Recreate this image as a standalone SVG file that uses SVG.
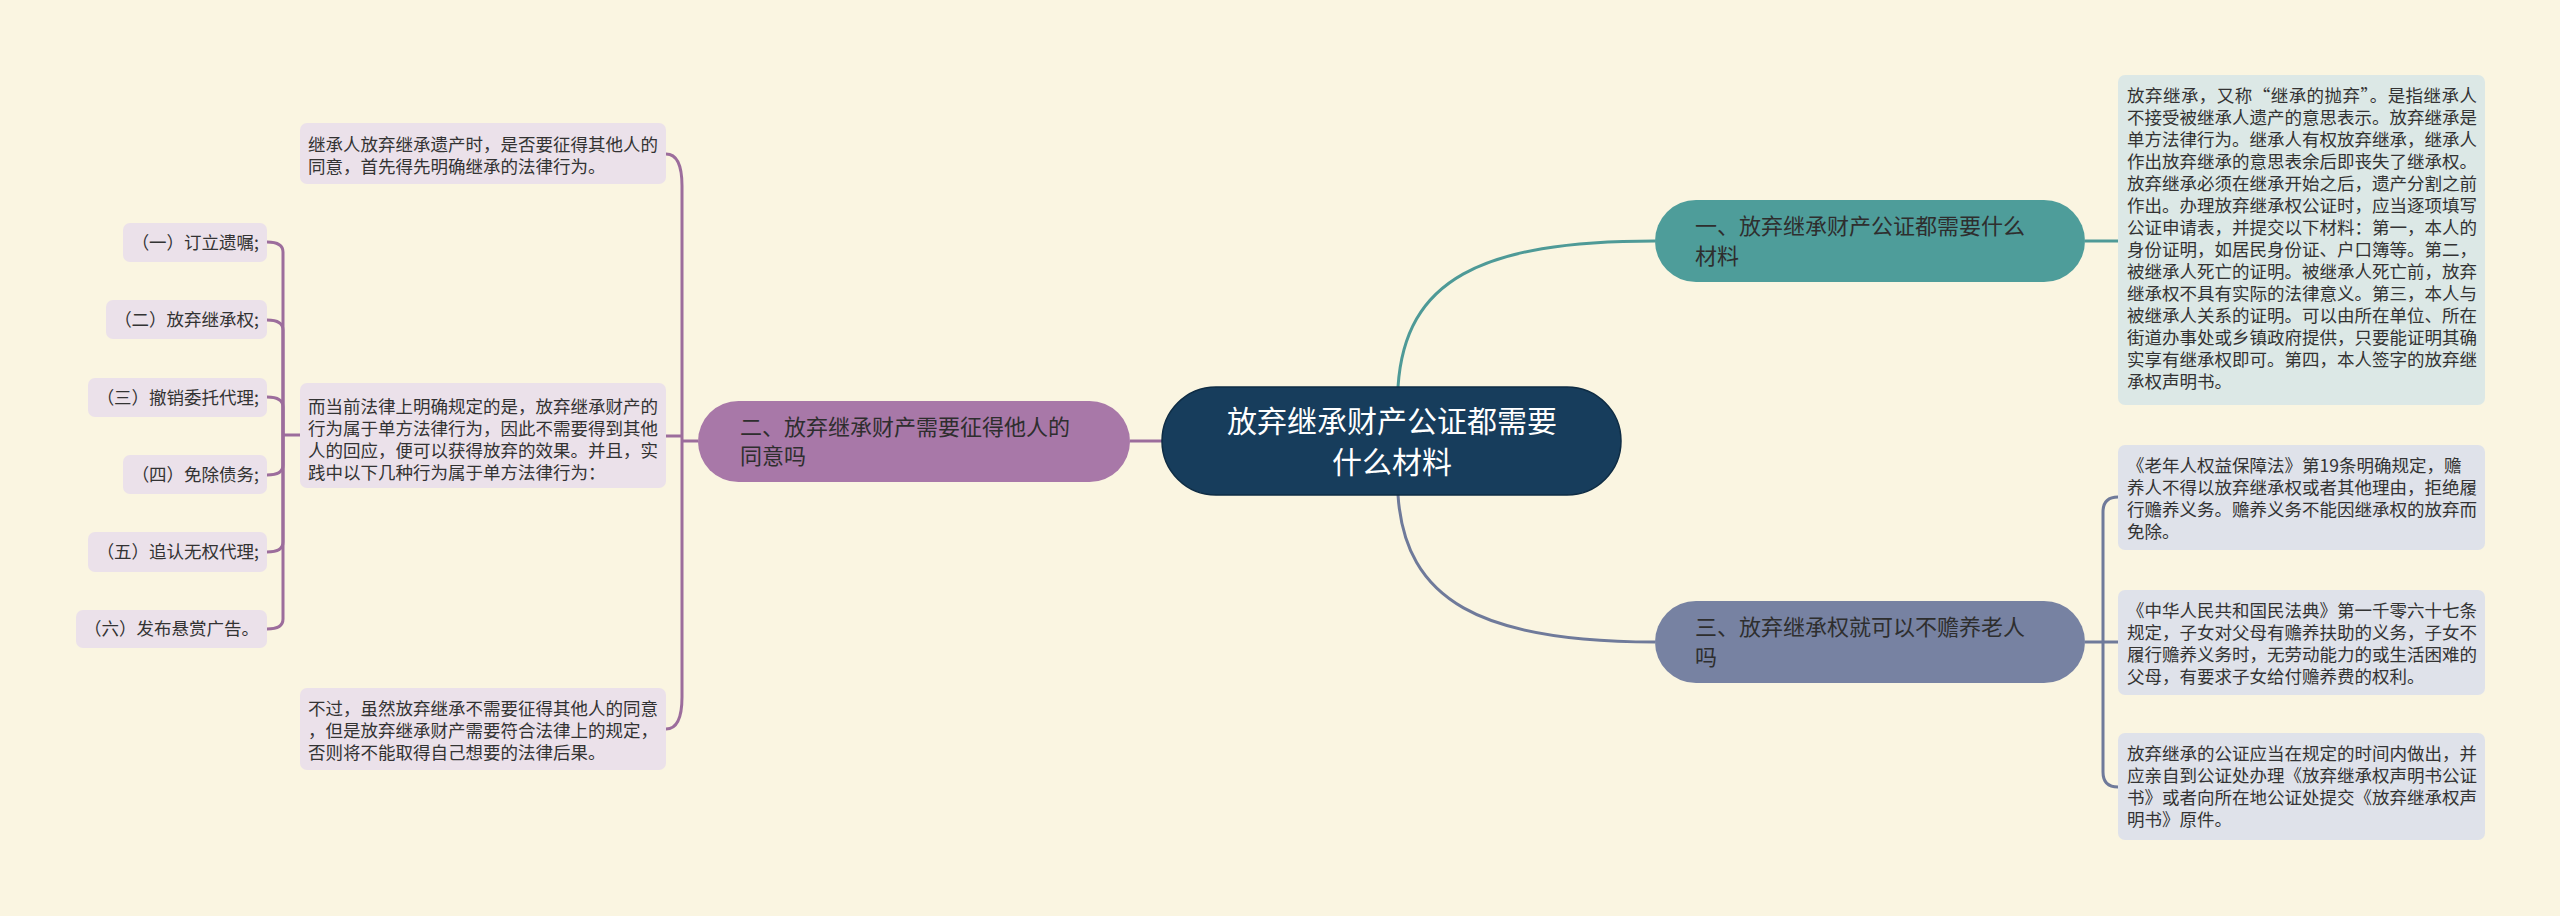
<svg xmlns="http://www.w3.org/2000/svg" width="2560" height="916" viewBox="0 0 2560 916">
<style>
text{font-family:"Noto Sans CJK SC","Liberation Sans",sans-serif;}
.leaf{font-size:17.5px;fill:#333333;}
.br{font-size:22px;fill:#2e2e2e;}
.root{font-size:30px;fill:#ffffff;text-anchor:middle;}
.lt{fill:#dce8e6;}
.lb{fill:#dfe2ea;}
.lp{fill:#ebe1ea;}
.c-teal{fill:none;stroke:#4e9a97;stroke-width:3;}
.c-slate{fill:none;stroke:#6f7a9a;stroke-width:3;}
.c-purp{fill:none;stroke:#9c6d9c;stroke-width:3;}
.ra{text-anchor:end;}
</style>
<rect x="0" y="0" width="2560" height="916" fill="#faf5e1"/>

<g id="connectors">
  <path class="c-teal" d="M1398,387 C1405,280 1480,241 1655,241"/>
  <path class="c-slate" d="M1398,495 C1405,600 1480,642 1655,642"/>
  <path class="c-purp" d="M1162,441 L1130,441"/>
  <path class="c-teal" d="M2085,241 L2118,241"/>
  <path class="c-slate" d="M2085,642 L2118,642"/>
  <path class="c-slate" d="M2103,642 L2103,512 Q2103,497 2118,497"/>
  <path class="c-slate" d="M2103,642 L2103,772 Q2103,787 2118,787"/>
  <path class="c-purp" d="M698,441 L682,441"/>
  <path class="c-purp" d="M682,441 L682,186 Q682,154 666,154"/>
  <path class="c-purp" d="M682,441 L682,697 Q682,729 666,729"/>
  <path class="c-purp" d="M682,436 L666,436"/>
  <path class="c-purp" d="M300,435 L283,435"/>
  <path class="c-purp" d="M283,435 L283,252 Q283,242 267,242"/>
  <path class="c-purp" d="M283,435 L283,330 Q283,320 267,320"/>
  <path class="c-purp" d="M283,435 L283,407 Q283,397 267,397"/>
  <path class="c-purp" d="M283,435 L283,465 Q283,475 267,475"/>
  <path class="c-purp" d="M283,435 L283,542 Q283,552 267,552"/>
  <path class="c-purp" d="M283,435 L283,619 Q283,629 267,629"/>
</g>

<g id="root">
  <rect x="1162" y="387" width="459" height="108" rx="54" fill="#173d5c" stroke="#0e2c44" stroke-width="1.5"/>
  <text class="root" x="1392" y="432">放弃继承财产公证都需要</text>
  <text class="root" x="1392" y="473">什么材料</text>
</g>

<g id="branch1">
  <rect x="1655" y="200" width="430" height="82" rx="41" fill="#4e9d9a"/>
  <text class="br" x="1695" y="234">一、放弃继承财产公证都需要什么</text>
  <text class="br" x="1695" y="264">材料</text>
</g>

<g id="branch2">
  <rect x="698" y="401" width="432" height="81" rx="40.5" fill="#a878a8"/>
  <text class="br" x="740" y="435">二、放弃继承财产需要征得他人的</text>
  <text class="br" x="740" y="464">同意吗</text>
</g>

<g id="branch3">
  <rect x="1655" y="601" width="430" height="82" rx="41" fill="#7782a2"/>
  <text class="br" x="1695" y="635">三、放弃继承权就可以不赡养老人</text>
  <text class="br" x="1695" y="665">吗</text>
</g>

<g id="leaf-r1">
  <rect class="lt" x="2118" y="75" width="367" height="330" rx="7"/>
  <text class="leaf" x="2127" y="102" textLength="350" lengthAdjust="spacing">放弃继承，又称“继承的抛弃”。是指继承人</text>
  <text class="leaf" x="2127" y="124">不接受被继承人遗产的意思表示。放弃继承是</text>
  <text class="leaf" x="2127" y="146">单方法律行为。继承人有权放弃继承，继承人</text>
  <text class="leaf" x="2127" y="168">作出放弃继承的意思表余后即丧失了继承权。</text>
  <text class="leaf" x="2127" y="190">放弃继承必须在继承开始之后，遗产分割之前</text>
  <text class="leaf" x="2127" y="212">作出。办理放弃继承权公证时，应当逐项填写</text>
  <text class="leaf" x="2127" y="234">公证申请表，并提交以下材料：第一，本人的</text>
  <text class="leaf" x="2127" y="256">身份证明，如居民身份证、户口簿等。第二，</text>
  <text class="leaf" x="2127" y="278">被继承人死亡的证明。被继承人死亡前，放弃</text>
  <text class="leaf" x="2127" y="300">继承权不具有实际的法律意义。第三，本人与</text>
  <text class="leaf" x="2127" y="322">被继承人关系的证明。可以由所在单位、所在</text>
  <text class="leaf" x="2127" y="344">街道办事处或乡镇政府提供，只要能证明其确</text>
  <text class="leaf" x="2127" y="366">实享有继承权即可。第四，本人签字的放弃继</text>
  <text class="leaf" x="2127" y="388">承权声明书。</text>
</g>

<g id="leaf-r2">
  <rect class="lb" x="2118" y="445" width="367" height="105" rx="7"/>
  <text class="leaf" x="2127" y="472">《老年人权益保障法》第19条明确规定，赡</text>
  <text class="leaf" x="2127" y="494">养人不得以放弃继承权或者其他理由，拒绝履</text>
  <text class="leaf" x="2127" y="516">行赡养义务。赡养义务不能因继承权的放弃而</text>
  <text class="leaf" x="2127" y="538">免除。</text>
</g>

<g id="leaf-r3">
  <rect class="lb" x="2118" y="590" width="367" height="105" rx="7"/>
  <text class="leaf" x="2127" y="617">《中华人民共和国民法典》第一千零六十七条</text>
  <text class="leaf" x="2127" y="639">规定，子女对父母有赡养扶助的义务，子女不</text>
  <text class="leaf" x="2127" y="661">履行赡养义务时，无劳动能力的或生活困难的</text>
  <text class="leaf" x="2127" y="683">父母，有要求子女给付赡养费的权利。</text>
</g>

<g id="leaf-r4">
  <rect class="lb" x="2118" y="733" width="367" height="107" rx="7"/>
  <text class="leaf" x="2127" y="760">放弃继承的公证应当在规定的时间内做出，并</text>
  <text class="leaf" x="2127" y="782">应亲自到公证处办理《放弃继承权声明书公证</text>
  <text class="leaf" x="2127" y="804">书》或者向所在地公证处提交《放弃继承权声</text>
  <text class="leaf" x="2127" y="826">明书》原件。</text>
</g>

<g id="leaf-l1">
  <rect class="lp" x="300" y="123" width="366" height="61" rx="7"/>
  <text class="leaf" x="308" y="151">继承人放弃继承遗产时，是否要征得其他人的</text>
  <text class="leaf" x="308" y="173">同意，首先得先明确继承的法律行为。</text>
</g>

<g id="leaf-l2">
  <rect class="lp" x="300" y="383" width="366" height="105" rx="7"/>
  <text class="leaf" x="308" y="413">而当前法律上明确规定的是，放弃继承财产的</text>
  <text class="leaf" x="308" y="435">行为属于单方法律行为，因此不需要得到其他</text>
  <text class="leaf" x="308" y="457">人的回应，便可以获得放弃的效果。并且，实</text>
  <text class="leaf" x="308" y="479">践中以下几种行为属于单方法律行为：</text>
</g>

<g id="leaf-l3">
  <rect class="lp" x="300" y="688" width="366" height="82" rx="7"/>
  <text class="leaf" x="308" y="715">不过，虽然放弃继承不需要征得其他人的同意</text>
  <text class="leaf" x="308" y="737">，但是放弃继承财产需要符合法律上的规定，</text>
  <text class="leaf" x="308" y="759">否则将不能取得自己想要的法律后果。</text>
</g>

<g id="item1">
  <rect class="lp" x="123" y="223" width="144" height="39" rx="7"/>
  <text class="leaf ra" x="259" y="249">（一）订立遗嘱;</text>
</g>
<g id="item2">
  <rect class="lp" x="106" y="300" width="161" height="39" rx="7"/>
  <text class="leaf ra" x="259" y="326">（二）放弃继承权;</text>
</g>
<g id="item3">
  <rect class="lp" x="88" y="378" width="179" height="39" rx="7"/>
  <text class="leaf ra" x="259" y="404">（三）撤销委托代理;</text>
</g>
<g id="item4">
  <rect class="lp" x="123" y="455" width="144" height="39" rx="7"/>
  <text class="leaf ra" x="259" y="481">（四）免除债务;</text>
</g>
<g id="item5">
  <rect class="lp" x="88" y="532" width="179" height="40" rx="7"/>
  <text class="leaf ra" x="259" y="558">（五）追认无权代理;</text>
</g>
<g id="item6">
  <rect class="lp" x="76" y="610" width="191" height="38" rx="7"/>
  <text class="leaf ra" x="259" y="635">（六）发布悬赏广告。</text>
</g>
</svg>
